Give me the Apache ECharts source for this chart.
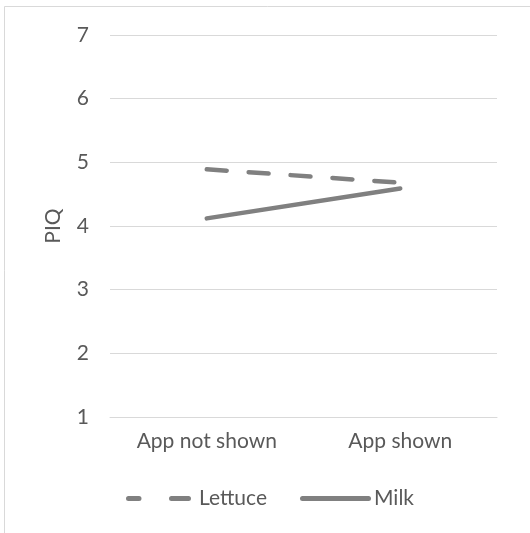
<!DOCTYPE html>
<html>
<head>
<meta charset="utf-8">
<script src="https://cdn.jsdelivr.net/npm/echarts@6/dist/echarts.min.js"></script>
<style>
  html, body { margin: 0; padding: 0; background: #ffffff; }
  #chart { width: 530px; height: 533px; }
</style>
</head>
<body>
<div id="chart"></div>
<script>
// Category labels on the horizontal axis
const categories = ['App not shown', 'App shown'];
// Mean PIQ per condition
const lettuceValues = [4.89, 4.68];
const milkValues = [4.12, 4.59];
// Vertical axis range
const yMin = 1;
const yMax = 7;
const yStep = 1;

const font = 'Lato, Open Sans, sans-serif';
const fontSize = 21;
const textColor = '#595959';
const lineColor = '#808080';

// Legend glyphs: two rounded dashes for Lettuce, one rounded bar for Milk
const dashIcon = 'path://M2.5,0 H13 A2.5,2.5 0 0 1 13,5 H2.5 A2.5,2.5 0 0 1 2.5,0 Z ' +
                 'M45.5,0 H62.5 A2.5,2.5 0 0 1 62.5,5 H45.5 A2.5,2.5 0 0 1 45.5,0 Z';
const solidIcon = 'path://M2.5,0 H68.5 A2.5,2.5 0 0 1 68.5,5 H2.5 A2.5,2.5 0 0 1 2.5,0 Z';

const legendText = { fontFamily: font, fontSize: fontSize, color: textColor };

const chart = echarts.init(document.getElementById('chart'), null, { renderer: 'canvas' });
chart.setOption({
  backgroundColor: '#ffffff',
  animation: false,
  graphic: [{
    type: 'rect',
    shape: { x: 4.5, y: 6.5, width: 620, height: 620 },
    style: { fill: 'none', stroke: '#d9d9d9', lineWidth: 1 },
    silent: true
  }],
  grid: { left: 110, right: 33, top: 35, bottom: 116 },
  legend: [
    {
      left: 121, top: 483,
      itemWidth: 65, itemHeight: 5,
      data: [{ name: 'Lettuce', icon: dashIcon }],
      textStyle: Object.assign({ padding: [0, 0, 0, 3] }, legendText),
      inactiveColor: lineColor
    },
    {
      left: 295, top: 483,
      itemWidth: 71, itemHeight: 5,
      data: [{ name: 'Milk', icon: solidIcon }],
      textStyle: Object.assign({ padding: [0, 0, 0, -2] }, legendText),
      inactiveColor: lineColor
    }
  ],
  xAxis: {
    type: 'category',
    data: categories,
    boundaryGap: true,
    axisLine: { show: true, lineStyle: { color: '#d9d9d9', width: 1 } },
    axisTick: { show: false },
    axisLabel: { fontFamily: font, fontSize: fontSize, color: textColor, margin: 14 }
  },
  yAxis: {
    type: 'value',
    min: yMin,
    max: yMax,
    interval: yStep,
    name: 'PIQ',
    nameLocation: 'middle',
    nameGap: 46,
    nameRotate: 90,
    nameTextStyle: { fontFamily: font, fontSize: fontSize, color: textColor },
    axisLine: { show: false },
    axisTick: { show: false },
    axisLabel: { fontFamily: font, fontSize: fontSize, color: textColor, margin: 21 },
    splitLine: { lineStyle: { color: '#d9d9d9', width: 1 } }
  },
  series: [
    {
      name: 'Lettuce',
      type: 'line',
      data: lettuceValues,
      symbol: 'none',
      lineStyle: { color: lineColor, width: 4.5, type: [20, 22], cap: 'round' },
      itemStyle: { color: lineColor }
    },
    {
      name: 'Milk',
      type: 'line',
      data: milkValues,
      symbol: 'none',
      lineStyle: { color: lineColor, width: 4.5, type: 'solid', cap: 'round' },
      itemStyle: { color: lineColor }
    }
  ]
});
</script>
</body>
</html>
